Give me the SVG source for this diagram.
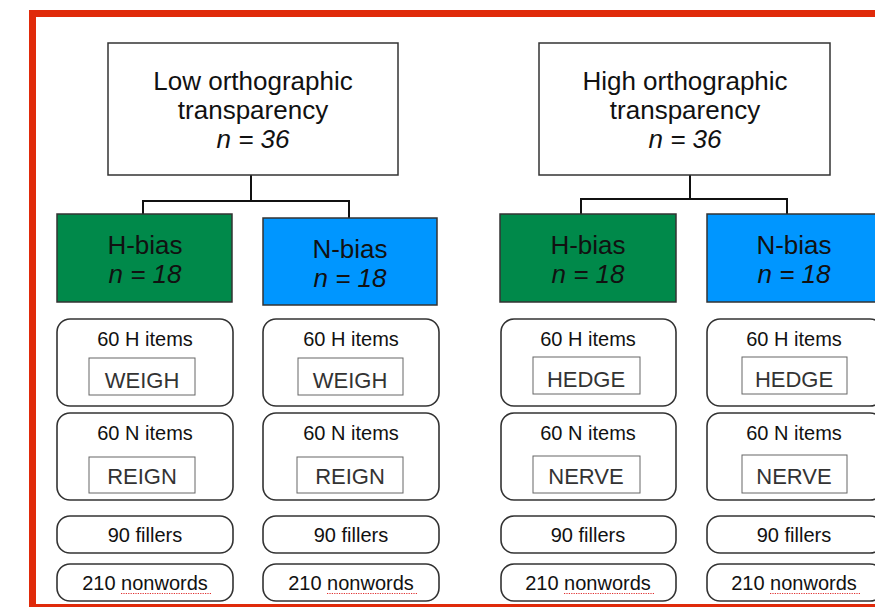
<svg xmlns="http://www.w3.org/2000/svg" width="875" height="607" viewBox="0 0 875 607">
<style>
text{font-family:"Liberation Sans",Arial,sans-serif;fill:#111;text-anchor:middle}
.top{fill:#fff;stroke:#333;stroke-width:1.5}
.t1{font-size:26px}
.hb{fill:#00894A;stroke:#333;stroke-width:1.5}
.nb{fill:#0096FF;stroke:#333;stroke-width:1.5}
.rb{fill:#fff;stroke:#333;stroke-width:1.6}
.wb{fill:#fff;stroke:#666;stroke-width:1}
.s{font-size:20px}
.w{font-size:22px;fill:#333}
.i{font-style:italic}
.conn{fill:none;stroke:#111;stroke-width:2}
.sp{stroke:#e03030;stroke-width:1.2;stroke-dasharray:1.2 1.2;fill:none}
</style>
<rect x="32.5" y="13.5" width="900" height="594" fill="none" stroke="#E02A0A" stroke-width="7"/>
<g id="connectors">
<path class="conn" d="M251 175V201M143 214V201H349V218"/>
<path class="conn" d="M690 175V199M581 214V199H787V214"/>
</g>
<g id="low">
<rect class="top" x="108" y="43" width="290" height="132"/>
<text class="t1" x="253" y="90">Low orthographic</text>
<text class="t1" x="253" y="119">transparency</text>
<text class="t1 i" x="253" y="148">n = 36</text>
</g>
<g id="high">
<rect class="top" x="539" y="43" width="291" height="132"/>
<text class="t1" x="685" y="90">High orthographic</text>
<text class="t1" x="685" y="119">transparency</text>
<text class="t1 i" x="685" y="148">n = 36</text>
</g>
<g id="low-h">
<rect class="hb" x="57" y="214" width="175" height="88"/>
<text class="t1" x="145" y="254">H-bias</text>
<text class="t1 i" x="145" y="283">n = 18</text>
</g>
<g id="low-n">
<rect class="nb" x="263" y="218" width="174" height="87"/>
<text class="t1" x="350" y="258">N-bias</text>
<text class="t1 i" x="350" y="287">n = 18</text>
</g>
<g id="high-h">
<rect class="hb" x="500" y="214" width="176" height="88"/>
<text class="t1" x="588" y="254">H-bias</text>
<text class="t1 i" x="588" y="283">n = 18</text>
</g>
<g id="high-n">
<rect class="nb" x="707" y="214" width="176" height="88"/>
<text class="t1" x="794" y="254">N-bias</text>
<text class="t1 i" x="794" y="283">n = 18</text>
</g>
<g id="c1">
<rect class="rb" x="57" y="319" width="176" height="87" rx="13"/>
<text class="s" x="145" y="346">60 H items</text>
<rect class="wb" x="89" y="358" width="106" height="37"/>
<text class="w" x="142" y="388">WEIGH</text>
<rect class="rb" x="57" y="413" width="176" height="87" rx="13"/>
<text class="s" x="145" y="440">60 N items</text>
<rect class="wb" x="89" y="457" width="106" height="36"/>
<text class="w" x="142" y="484">REIGN</text>
<rect class="rb" x="57" y="516" width="176" height="37" rx="13"/>
<text class="s" x="145" y="542">90 fillers</text>
<rect class="rb" x="57" y="564" width="176" height="37" rx="13"/>
<text class="s" x="145" y="590">210 nonwords</text>
<path class="sp" d="M121 593.5H211"/>
</g>
<g id="c2">
<rect class="rb" x="263" y="319" width="176" height="87" rx="13"/>
<text class="s" x="351" y="346">60 H items</text>
<rect class="wb" x="298" y="358" width="105" height="37"/>
<text class="w" x="350" y="388">WEIGH</text>
<rect class="rb" x="263" y="413" width="176" height="87" rx="13"/>
<text class="s" x="351" y="440">60 N items</text>
<rect class="wb" x="297" y="457" width="106" height="36"/>
<text class="w" x="350" y="484">REIGN</text>
<rect class="rb" x="263" y="516" width="176" height="37" rx="13"/>
<text class="s" x="351" y="542">90 fillers</text>
<rect class="rb" x="263" y="564" width="176" height="37" rx="13"/>
<text class="s" x="351" y="590">210 nonwords</text>
<path class="sp" d="M327 593.5H417"/>
</g>
<g id="c3">
<rect class="rb" x="501" y="319" width="175" height="87" rx="13"/>
<text class="s" x="588" y="346">60 H items</text>
<rect class="wb" x="533" y="357" width="107" height="37"/>
<text class="w" x="586" y="387">HEDGE</text>
<rect class="rb" x="501" y="413" width="175" height="87" rx="13"/>
<text class="s" x="588" y="440">60 N items</text>
<rect class="wb" x="533" y="456" width="107" height="37"/>
<text class="w" x="586" y="484">NERVE</text>
<rect class="rb" x="501" y="516" width="175" height="37" rx="13"/>
<text class="s" x="588" y="542">90 fillers</text>
<rect class="rb" x="501" y="564" width="175" height="37" rx="13"/>
<text class="s" x="588" y="590">210 nonwords</text>
<path class="sp" d="M564 593.5H654"/>
</g>
<g id="c4">
<rect class="rb" x="707" y="319" width="176" height="87" rx="13"/>
<text class="s" x="794" y="346">60 H items</text>
<rect class="wb" x="742" y="357" width="105" height="37"/>
<text class="w" x="794" y="387">HEDGE</text>
<rect class="rb" x="707" y="413" width="176" height="87" rx="13"/>
<text class="s" x="794" y="440">60 N items</text>
<rect class="wb" x="742" y="455" width="105" height="38"/>
<text class="w" x="794" y="484">NERVE</text>
<rect class="rb" x="707" y="516" width="176" height="37" rx="13"/>
<text class="s" x="794" y="542">90 fillers</text>
<rect class="rb" x="707" y="564" width="176" height="37" rx="13"/>
<text class="s" x="794" y="590">210 nonwords</text>
<path class="sp" d="M770 593.5H860"/>
</g>
</svg>
